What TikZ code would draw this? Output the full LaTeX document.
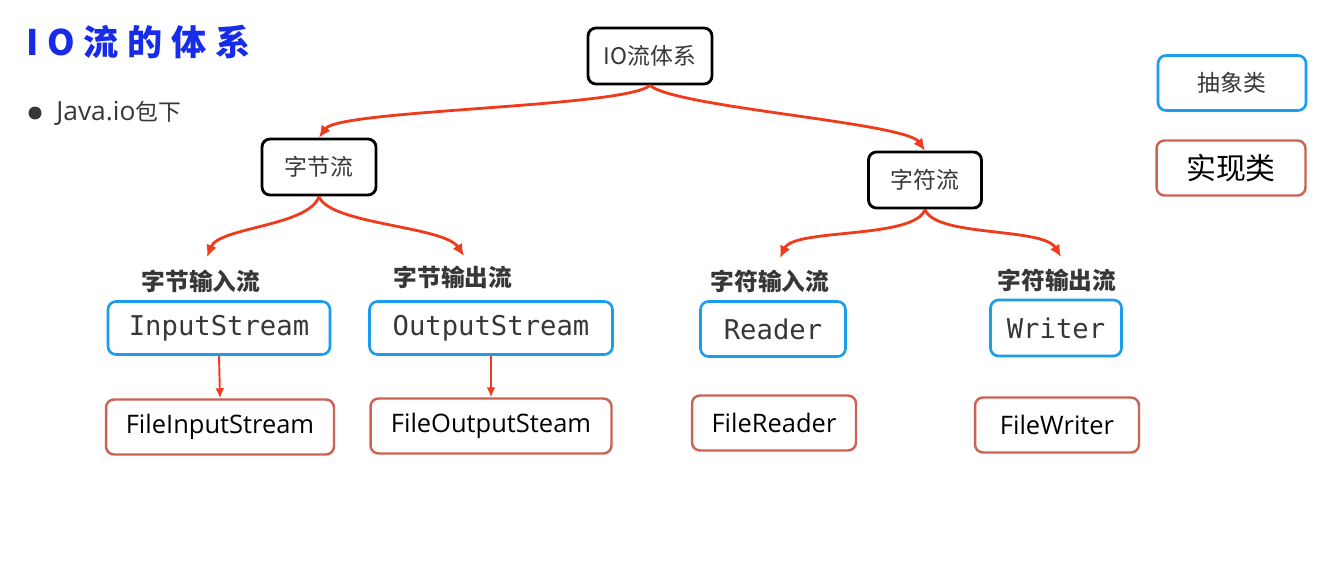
\documentclass[tikz,border=0pt]{standalone}
\usepackage{fontspec}
\usetikzlibrary{arrows.meta}
\setmainfont{Noto Sans CJK SC}
\setmonofont{DejaVu Sans Mono}
\newfontfamily\cjk{Noto Sans CJK SC}
\newfontfamily\titlefont[LetterSpace=25]{Noto Sans CJK SC}
\newfontfamily\classfont{Open Sans}
\definecolor{arrowred}{RGB}{240,58,28}
\definecolor{absblue}{RGB}{28,156,236}
\definecolor{implred}{RGB}{204,98,84}
\definecolor{txtgray}{RGB}{55,55,55}
\definecolor{titleblue}{RGB}{22,44,232}

\begin{document}
\begin{tikzpicture}[x=0.02cm,y=-0.02cm,
        streambox/.style={draw=black,line width=1.6pt,rounded corners=0.16cm,minimum height=1.12cm,text=txtgray,font=\cjk\fontsize{13}{15}\selectfont},
        absbox/.style={draw=absblue,line width=1.5pt,rounded corners=0.16cm,minimum height=1.06cm,text=txtgray,font=\ttfamily\fontsize{15.5}{17}\selectfont},
        implbox/.style={draw=implred,line width=1.4pt,rounded corners=0.16cm,minimum height=1.1cm,text=black,font=\classfont\fontsize{14.5}{16}\selectfont},
        kind/.style={text=txtgray,font=\cjk\bfseries\fontsize{13.5}{15}\selectfont},
        flow/.style={draw=arrowred,line width=1.6pt,-{Latex[length=0.24cm,width=0.22cm]}},
        subflow/.style={draw=arrowred,line width=1.1pt,-{Latex[length=0.2cm,width=0.18cm]}}]
        \useasboundingbox (0,0) rectangle (1335,568);
        \fill[white] (0,0) rectangle (1335,568);

        % title and bullet
        \node[anchor=west,text=titleblue,font=\titlefont\bfseries\fontsize{20}{22}\selectfont] (title) at (20,42) {IO流的体系};
        \node[circle,fill=txtgray,inner sep=0pt,minimum size=0.26cm] (dot) at (35,113) {};
        \node[anchor=west,text=txtgray,inner sep=0pt] (pkg) at (56,113) {{\classfont\fontsize{15}{17}\selectfont Java.io}{\cjk\fontsize{13}{15}\selectfont 包下}};

        % tree
        \node[streambox,minimum width=2.48cm] (io) at (650,56) {IO流体系};
        \node[streambox,minimum width=2.28cm] (byte) at (319,167) {字节流};
        \node[streambox,minimum width=2.26cm] (char) at (925,180) {字符流};

        % legend
        \node[absbox,minimum width=2.96cm,minimum height=1.1cm,font=\cjk\fontsize{13}{15}\selectfont] (abs) at (1232,83) {抽象类};
        \node[implbox,minimum width=2.98cm,font=\cjk\fontsize{17}{19}\selectfont] (impl) at (1231,168) {实现类};

        \node[kind] (bin) at (201,281) {字节输入流};
        \node[kind] (bout) at (453,277) {字节输出流};
        \node[kind] (cin) at (770,281) {字符输入流};
        \node[kind] (cout) at (1057,280) {字符输出流};

        \node[absbox,minimum width=4.44cm] (is) at (219,328) {InputStream};
        \node[absbox,minimum width=4.86cm] (os) at (491,328) {OutputStream};
        \node[absbox,minimum width=2.9cm,minimum height=1.1cm] (rd) at (773,329) {Reader};
        \node[absbox,minimum width=2.62cm,minimum height=1.12cm] (wr) at (1056,328) {Writer};

        \node[implbox,minimum width=4.56cm] (fis) at (220,427) {FileInputStream};
        \node[implbox,minimum width=4.82cm] (fos) at (491,426) {FileOutputSteam};
        \node[implbox,minimum width=3.28cm] (frd) at (774,423) {FileReader};
        \node[implbox,minimum width=3.28cm] (fwr) at (1057,425) {FileWriter};

        \coordinate (binTip) at (207,257);
        \coordinate (boutTip) at (464,256);
        \coordinate (cinTip) at (780,258);
        \coordinate (coutTip) at (1061,257);

        \draw[flow] (io.south) .. controls +(-25,22) and +(20,-28) .. (byte.north);
        \draw[flow] (io.south) .. controls +(25,22) and +(-20,-28) .. (char.north);
        \draw[flow] (byte.south) .. controls +(-10,30) and +(12,-30) .. (binTip);
        \draw[flow] (byte.south) .. controls +(10,28) and +(-20,-30) .. (boutTip);
        \draw[flow] (char.south) .. controls +(-10,30) and +(14,-30) .. (cinTip);
        \draw[flow] (char.south) .. controls +(10,28) and +(-18,-30) .. (coutTip);

        \draw[subflow] (is.south) -- (fis.north);
        \draw[subflow] (os.south) -- (fos.north);
    \end{tikzpicture}
\end{document}
